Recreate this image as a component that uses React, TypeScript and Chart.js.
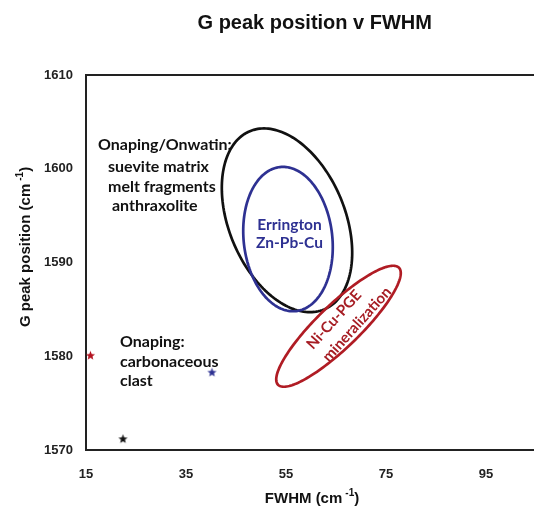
import React, { useEffect, useRef } from 'react';
import { Chart, registerables } from 'chart.js';

Chart.register(...registerables);

// Axis ticks
const xTicks = [15, 35, 55, 75, 95];
const yTicks = [1570, 1580, 1590, 1600, 1610];

// Star markers
const starX = [15.9, 40.2, 22.4];
const starY = [1580.1, 1578.3, 1571.2];
const starColors = ['#b3121f', '#2e3192', '#111111'];

// Ellipse fields: centre and two conjugate semi-diameters (data units)
const ellipseCX = [55.2, 55.4, 65.5];
const ellipseCY = [1594.5, 1592.5, 1583.2];
const ellipseUX = [-4.6, -1.0, 12.1];
const ellipseUY = [9.8, 7.7, 6.24];
const ellipseVX = [12.2, 8.9, 2.95];
const ellipseVY = [0, 0, -1.65];
const ellipseColors = ['#111111', '#2e3192', '#b01c24'];

// Text annotations
const labelText = [
  'Onaping/Onwatin:', 'suevite matrix', 'melt fragments', 'anthraxolite',
  'Errington', 'Zn-Pb-Cu',
  'Onaping:', 'carbonaceous', 'clast',
  'Ni-Cu-PGE', 'mineralization',
];
const labelX = [17.4, 19.4, 19.4, 20.2, 55.7, 55.7, 21.8, 21.8, 21.8, 64.6, 69.2];
const labelY = [1602.5, 1600.2, 1598.1, 1596.0, 1594.0, 1592.1, 1581.5, 1579.4, 1577.4, 1583.9, 1583.4];

const LW = 560;
const LH = 506;

function makeStar(color: string) {
  const c = document.createElement('canvas');
  c.width = 11;
  c.height = 11;
  const g = c.getContext('2d')!;
  g.fillStyle = color;
  g.beginPath();
  const R = 4.8, r = 2.1;
  for (let i = 0; i < 10; i++) {
    const a = -Math.PI / 2 + (i * Math.PI) / 5;
    const rad = i % 2 === 0 ? R : r;
    const px = 5.5 + rad * Math.cos(a);
    const py = 5.9 + rad * Math.sin(a);
    if (i === 0) g.moveTo(px, py);
    else g.lineTo(px, py);
  }
  g.closePath();
  g.fill();
  return c;
}

const tickFont = { family: '"Liberation Sans", Arial, sans-serif', size: 13, weight: 'bold' as const };

export default function App() {
  const ref = useRef<HTMLCanvasElement | null>(null);

  useEffect(() => {
    if (!ref.current) return;

    const framePlugin = {
      id: 'frame',
      beforeDatasetsDraw(chart: any) {
        const { ctx, chartArea } = chart;
        ctx.save();
        ctx.strokeStyle = '#222';
        ctx.lineWidth = 2;
        ctx.beginPath();
        ctx.moveTo(chartArea.left - 1, chartArea.top);
        ctx.lineTo(chartArea.right + 20, chartArea.top);
        ctx.stroke();
        ctx.restore();
      },
    };

    const ellipsePlugin = {
      id: 'ellipses',
      afterDatasetsDraw(chart: any) {
        const { ctx } = chart;
        const xs = chart.scales.x;
        const ys = chart.scales.y;
        ctx.save();
        ctx.lineWidth = 2.7;
        for (let k = 0; k < ellipseCX.length; k++) {
          ctx.strokeStyle = ellipseColors[k];
          ctx.beginPath();
          const N = 180;
          for (let i = 0; i <= N; i++) {
            const t = (i / N) * Math.PI * 2;
            const dx = ellipseCX[k] + ellipseUX[k] * Math.cos(t) + ellipseVX[k] * Math.sin(t);
            const dy = ellipseCY[k] + ellipseUY[k] * Math.cos(t) + ellipseVY[k] * Math.sin(t);
            const px = xs.getPixelForValue(dx);
            const py = ys.getPixelForValue(dy);
            if (i === 0) ctx.moveTo(px, py);
            else ctx.lineTo(px, py);
          }
          ctx.closePath();
          ctx.stroke();
        }
        ctx.restore();
      },
    };

    const textPlugin = {
      id: 'texts',
      afterDraw(chart: any) {
        const { ctx, chartArea } = chart;
        const xs = chart.scales.x;
        const ys = chart.scales.y;
        ctx.save();
        // title
        ctx.fillStyle = '#111';
        ctx.font = 'bold 20px "Liberation Sans", Arial, sans-serif';
        ctx.textAlign = 'center';
        ctx.textBaseline = 'alphabetic';
        ctx.fillText('G peak position v FWHM', (chartArea.left + chartArea.right) / 2, 29);

        // axis titles with superscript
        const main = '15px';
        const sup = '10px';
        const fam = '"Liberation Sans", Arial, sans-serif';
        const drawSupTitle = (x: number, y: number, a: string, s: string, b: string) => {
          ctx.font = `bold ${main} ${fam}`;
          const wa = ctx.measureText(a).width;
          const wb = ctx.measureText(b).width;
          ctx.font = `bold ${sup} ${fam}`;
          const ws = ctx.measureText(s).width;
          const total = wa + ws + wb + 3;
          let cx = x - total / 2;
          ctx.textAlign = 'left';
          ctx.font = `bold ${main} ${fam}`;
          ctx.fillText(a, cx, y);
          cx += wa + 3;
          ctx.font = `bold ${sup} ${fam}`;
          ctx.fillText(s, cx, y - 7);
          cx += ws;
          ctx.font = `bold ${main} ${fam}`;
          ctx.fillText(b, cx, y);
        };
        ctx.fillStyle = '#111';
        drawSupTitle(312, 503, 'FWHM (cm', '-1', ')');
        ctx.save();
        ctx.translate(30, 247);
        ctx.rotate(-Math.PI / 2);
        drawSupTitle(0, 0, 'G peak position (cm', '-1', ')');
        ctx.restore();

        // annotations
        ctx.textBaseline = 'middle';
        for (let i = 0; i < labelText.length; i++) {
          const px = xs.getPixelForValue(labelX[i]);
          const py = ys.getPixelForValue(labelY[i]);
          if (i <= 3 || (i >= 6 && i <= 8)) {
            ctx.fillStyle = '#111';
            ctx.font = 'bold 16px Lato, sans-serif';
            ctx.textAlign = 'left';
            ctx.fillText(labelText[i], px, py);
          } else if (i <= 5) {
            ctx.fillStyle = '#2e3192';
            ctx.font = 'bold 15.5px Lato, sans-serif';
            ctx.textAlign = 'center';
            ctx.fillText(labelText[i], px, py);
          } else {
            ctx.save();
            ctx.fillStyle = '#a61d24';
            ctx.font = 'bold 15px Lato, sans-serif';
            ctx.textAlign = 'center';
            ctx.translate(px, py);
            ctx.rotate((-48 * Math.PI) / 180);
            ctx.fillText(labelText[i], 0, 0);
            ctx.restore();
          }
        }
        ctx.restore();
      },
    };

    const chart = new Chart(ref.current, {
      type: 'scatter',
      data: {
        datasets: [
          {
            label: 'samples',
            data: starX.map((x, i) => ({ x, y: starY[i] })),
            pointStyle: starColors.map((c) => makeStar(c)) as any,
            pointRadius: 5,
            clip: false as any,
          },
        ],
      },
      options: {
        responsive: false,
        animation: false,
        devicePixelRatio: 1,
        layout: { padding: { left: 0, top: 75, right: 16.5, bottom: 0 } },
        plugins: {
          legend: { display: false },
          title: { display: false },
          tooltip: { enabled: false },
        },
        scales: {
          x: {
            type: 'linear',
            min: 15,
            max: 106.5,
            afterBuildTicks: (s: any) => {
              s.ticks = xTicks.map((value) => ({ value }));
            },
            afterFit: (s: any) => {
              s.height = 56;
            },
            grid: { display: false, drawTicks: false },
            border: { display: true, color: '#222', width: 2 },
            ticks: {
              font: tickFont,
              color: '#222',
              padding: 17,
              maxRotation: 0,
              autoSkip: false,
              callback: (v: any) => String(v),
            },
          },
          y: {
            type: 'linear',
            min: 1570,
            max: 1610,
            afterBuildTicks: (s: any) => {
              s.ticks = yTicks.map((value) => ({ value }));
            },
            afterFit: (s: any) => {
              s.width = 86;
            },
            grid: { display: false, drawTicks: false },
            border: { display: true, color: '#222', width: 2 },
            ticks: {
              font: tickFont,
              color: '#222',
              padding: 13,
              autoSkip: false,
              callback: (v: any) => String(v),
            },
          },
        },
      },
      plugins: [framePlugin, ellipsePlugin, textPlugin],
    });

    return () => chart.destroy();
  }, []);

  return (
    <div
      style={{
        position: 'fixed',
        left: 0,
        top: 0,
        width: 534,
        height: 506,
        overflow: 'hidden',
        background: '#fff',
      }}
    >
      <canvas ref={ref} width={LW} height={LH} style={{ width: LW, height: LH, display: 'block' }} />
    </div>
  );
}
